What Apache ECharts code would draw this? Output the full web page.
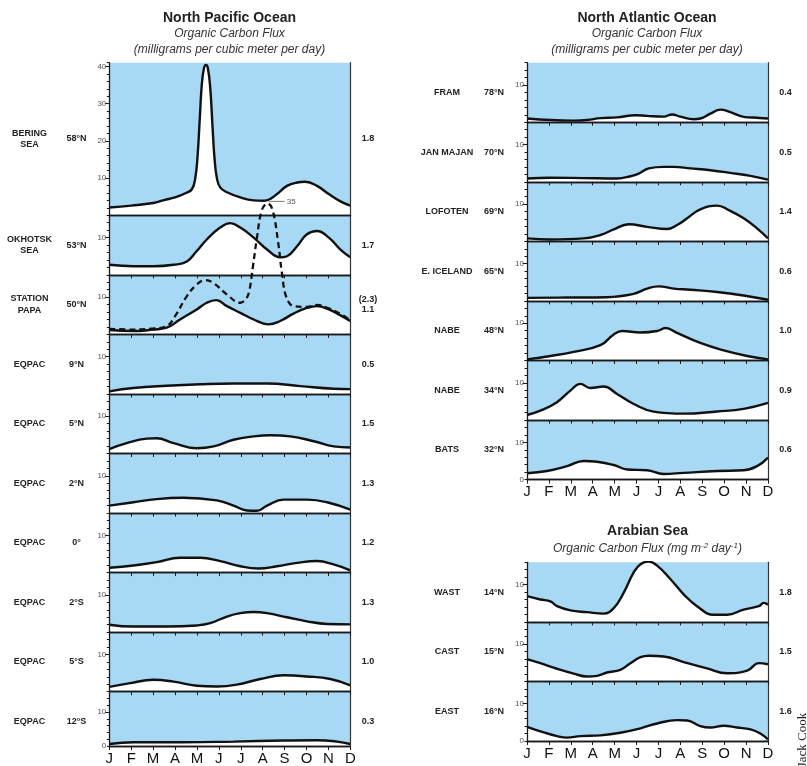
<!DOCTYPE html>
<html><head><meta charset="utf-8">
<script src="https://cdn.jsdelivr.net/npm/echarts@6/dist/echarts.min.js"></script>
<style>html,body{margin:0;padding:0;background:#fff}#c{width:807px;height:766px}</style>
</head><body><div id="c"></div>
<script>
// ---------- tick labels ----------
const months = ['J','F','M','A','M','J','J','A','S','O','N','D'];

// ---------- North Pacific (month index 0..11, flux) ----------
const beringSea = [[0,2.1],[1.0,2.6],[2.0,3.3],[2.5,4.1],[3.0,4.8],[3.5,6.0],[3.77,7.0],[3.92,9.8],[4.03,16],[4.13,26],[4.22,35],[4.32,39.5],[4.41,40.4],[4.50,39.5],[4.61,34],[4.71,24],[4.80,15.5],[4.91,10],[5.06,7.5],[5.37,6.2],[5.98,4.8],[6.59,4.0],[7.04,3.9],[7.35,4.4],[7.65,5.7],[8.11,7.9],[8.57,8.8],[8.95,9.0],[9.48,7.9],[10.02,5.7],[10.55,3.75],[11,2.6]];
const okhotskSea = [[0,2.7],[1.10,2.3],[2.01,2.3],[2.93,2.7],[3.54,3.6],[3.99,6.4],[4.45,9.5],[5.06,12.7],[5.52,13.9],[5.98,12.7],[6.59,10],[7.20,6.8],[7.80,4.7],[8.11,5.0],[8.57,7.7],[9.02,10.9],[9.48,11.8],[10.02,10],[10.55,6.8],[11,4.7]];
const stationPapa = [[0,1.2],[1.10,0.9],[2.01,1.3],[2.62,1.8],[3.23,4.0],[3.99,6.7],[4.45,8.5],[4.88,9.2],[5.37,7.6],[5.98,5.8],[6.59,4.0],[7.27,2.7],[7.80,3.6],[8.41,5.6],[9.02,7.1],[9.48,7.6],[10.02,6.7],[10.55,5.1],[11,3.6]];
const stationPapaAlt = [[0,1.5],[1.10,1.3],[2.01,1.6],[2.62,2.2],[3.0,4.9],[3.54,10.3],[3.99,13.4],[4.38,14.6],[4.76,13.8],[5.37,10.7],[5.98,8.5],[6.25,9.6],[6.40,12],[6.55,18],[6.74,26],[6.97,33.5],[7.23,35.2],[7.45,33.5],[7.70,25],[7.88,16.5],[8.08,10],[8.41,7.6],[9.02,7.4],[9.48,7.9],[10.02,7.0],[10.55,5.5],[11,3.75]];
const eqpac9N = [[0,0.7],[1.10,1.6],[2.62,2.2],[4.15,2.6],[5.67,2.8],[7.20,2.8],[8.72,2.1],[10.24,1.4],[11,1.3]];
const eqpac5N = [[0,1.2],[0.79,2.8],[1.71,4.0],[2.16,4.1],[2.93,2.8],[3.99,1.4],[4.76,1.9],[5.67,3.7],[6.59,4.6],[7.35,4.9],[8.26,4.6],[9.33,3.3],[10.24,1.9],[11,1.6]];
const eqpac2N = [[0,2.0],[1.10,2.9],[2.16,3.75],[3.38,4.1],[4.91,3.4],[5.67,2.0],[6.28,0.7],[6.74,0.6],[7.20,2.0],[7.96,3.6],[9.02,3.6],[9.94,2.9],[11,0.9]];
const eqpac0 = [[0,1.3],[1.10,1.9],[2.16,2.8],[3.23,4.0],[4.15,4.0],[5.06,3.1],[5.98,1.7],[6.81,1.1],[7.65,1.7],[8.57,2.6],[9.48,3.1],[10.24,2.2],[11,0.6]];
const eqpac2S = [[0,2.0],[1.10,1.5],[2.62,1.5],[3.99,1.8],[4.60,2.4],[5.37,4.2],[5.98,5.1],[6.59,5.4],[7.20,5.1],[8.11,4.0],[9.02,2.9],[9.94,2.2],[11,2.1]];
const eqpac5S = [[0,1.3],[0.95,2.3],[2.01,3.2],[2.93,2.7],[3.99,1.6],[4.91,1.4],[5.82,1.9],[6.89,3.4],[7.96,4.4],[9.02,4.1],[10.09,3.4],[11,1.7]];
const eqpac12S = [[0,0.6],[1.10,1.1],[3.38,1.1],[5.67,1.3],[7.96,1.6],[9.48,1.7],[10.40,1.3],[11,0.6]];

// ---------- North Atlantic ----------
const fram = [[0,1.0],[1.07,0.6],[2.13,0.45],[2.74,0.6],[3.35,1.1],[4.11,1.3],[4.95,1.9],[5.48,1.7],[6.24,1.5],[6.62,2.1],[7.00,1.5],[7.61,0.8],[7.91,1.0],[8.37,2.3],[8.83,3.4],[9.28,2.7],[9.89,1.45],[10.50,1.2],[11,1.0]];
const janMajan = [[0,0.9],[1.07,1.1],[2.59,1.0],[4.11,0.9],[4.72,1.5],[5.10,2.2],[5.56,3.6],[6.24,4.0],[6.70,4.0],[7.46,3.6],[8.37,3.1],[9.28,2.4],[10.20,1.6],[11,0.6]];
const lofoten = [[0,0.8],[1.07,0.5],[2.59,0.8],[3.35,1.7],[3.96,3.2],[4.64,4.6],[5.48,3.9],[6.39,3.3],[6.85,4.4],[7.31,6.2],[7.91,8.6],[8.68,9.6],[9.21,8.4],[9.89,6.2],[10.50,3.5],[11,0.8]];
const eIceland = [[0,0.8],[1.83,0.9],[3.65,1.0],[4.87,1.9],[5.48,3.3],[6.01,3.9],[6.70,3.3],[7.46,3.0],[8.68,2.4],[9.89,1.45],[11,0.3]];
const nabe48N = [[0,0.3],[1.07,1.2],[2.13,2.3],[3.35,4.1],[3.96,7.0],[4.34,7.9],[5.18,7.5],[5.94,7.9],[6.32,8.7],[6.85,7.4],[7.91,4.7],[8.98,2.7],[10.05,1.2],[11,0.3]];
const nabe34N = [[0,1.35],[0.61,2.5],[1.37,4.8],[1.98,7.9],[2.44,9.7],[2.89,8.6],[3.50,9.0],[4.11,7.0],[4.87,4.3],[5.78,2.25],[7.15,1.7],[8.68,2.3],[9.89,3.0],[11,4.6]];
const bats = [[0,1.7],[0.91,2.3],[1.83,3.6],[2.59,5.0],[3.20,4.8],[3.96,3.9],[4.57,2.7],[5.48,2.5],[6.24,1.5],[7.15,1.8],[8.68,2.3],[9.89,2.5],[10.50,3.6],[11,5.9]];

// ---------- Arabian Sea ----------
const wast = [[0,6.9],[0.61,6.0],[1.07,5.5],[1.37,4.2],[1.98,3.1],[2.74,2.6],[3.50,2.2],[3.96,3.7],[4.41,7.8],[4.87,13.3],[5.18,15.5],[5.56,16.2],[5.94,15.1],[6.54,11.5],[7.15,7.4],[7.76,4.2],[8.52,1.9],[9.13,1.9],[9.89,3.3],[10.58,4.2],[10.81,5.1],[11,4.6]];
const cast = [[0,6.0],[0.61,4.9],[1.37,3.4],[2.13,2.1],[2.74,1.3],[3.20,1.5],[3.65,2.4],[4.26,3.1],[4.72,4.9],[5.18,6.5],[5.56,6.9],[6.24,6.7],[7.15,5.2],[8.22,3.5],[9.13,2.2],[10.05,2.9],[10.58,4.9],[11,4.6]];
const east = [[0,3.8],[0.76,2.3],[1.37,1.3],[1.83,0.9],[2.44,1.3],[3.35,1.5],[4.26,2.2],[5.18,3.4],[5.94,4.7],[6.85,5.6],[7.31,5.5],[7.91,4.0],[8.37,3.6],[8.98,4.1],[9.59,3.6],[10.20,3.1],[10.65,2.0],[11,0.4]];

// ---------- labels ----------
const pacificNames  = ['BERING\nSEA','OKHOTSK\nSEA','STATION\nPAPA','EQPAC','EQPAC','EQPAC','EQPAC','EQPAC','EQPAC','EQPAC'];
const pacificLats   = ['58°N','53°N','50°N','9°N','5°N','2°N','0°','2°S','5°S','12°S'];
const pacificTotals = ['1.8','1.7','(2.3)\n1.1','0.5','1.5','1.3','1.2','1.3','1.0','0.3'];
const pacificData   = [beringSea, okhotskSea, stationPapa, eqpac9N, eqpac5N, eqpac2N, eqpac0, eqpac2S, eqpac5S, eqpac12S];
const atlanticNames  = ['FRAM','JAN MAJAN','LOFOTEN','E. ICELAND','NABE','NABE','BATS'];
const atlanticLats   = ['78°N','70°N','69°N','65°N','48°N','34°N','32°N'];
const atlanticTotals = ['0.4','0.5','1.4','0.6','1.0','0.9','0.6'];
const atlanticData   = [fram, janMajan, lofoten, eIceland, nabe48N, nabe34N, bats];
const arabianNames  = ['WAST','CAST','EAST'];
const arabianLats   = ['14°N','15°N','16°N'];
const arabianTotals = ['1.8','1.5','1.6'];
const arabianData   = [wast, cast, east];
const beringMax = 41, panelMax = 16;
const peakLabel = '35';

// ---------- layout ----------
const BLUE = '#a7d8f4', INK = '#1a1a1a';
const FONT = '"Liberation Sans", Arial, Helvetica, sans-serif';
const panels = [];
function addColumn(names, lats, totals, datas, left, top0, nameX, latX, totX, firstBig) {
  let top = top0;
  names.forEach((n, i) => {
    const big = firstBig && i === 0;
    const h = big ? 152.6 : 59.55;
    panels.push({name: n, lat: lats[i], total: totals[i], data: datas[i], left, top, h,
      max: big ? beringMax : panelMax, big, last: i === names.length - 1, nameX, latX, totX, topTicks: !big});
    top += h;
  });
}
addColumn(pacificNames, pacificLats, pacificTotals, pacificData, 109.3, 62.7, 29.5, 76.5, 368, true);
addColumn(atlanticNames, atlanticLats, atlanticTotals, atlanticData, 527, 62.7, 447, 494, 785.5, false);
addColumn(arabianNames, arabianLats, arabianTotals, arabianData, 527, 562.3, 447, 494, 785.5, false);

const grid = [], xAxis = [], yAxis = [], series = [], graphic = [];
const lineAxis = {show: true, lineStyle: {color: INK, width: 1.3}};
panels.forEach((p, i) => {
  grid.push({left: p.left, top: p.top, width: 241, height: p.h, show: true, backgroundColor: BLUE, borderWidth: 0});
  xAxis.push({gridIndex: i, type: 'value', min: 0, max: 11, interval: 1, position: 'top', z: 5,
    axisLine: lineAxis, axisTick: {show: p.topTicks, inside: true, length: 3.5, lineStyle: {color: INK, width: 1}},
    axisLabel: {show: false}, splitLine: {show: false}});
  xAxis.push({gridIndex: i, type: 'value', min: 0, max: 11, interval: 1, position: 'bottom', z: 5,
    axisLine: lineAxis, axisTick: {show: p.last, length: 4, lineStyle: {color: INK, width: 1}},
    axisLabel: {show: p.last, margin: 5, fontSize: 15, color: '#111',
      fontFamily: '"Liberation Sans Narrow", "Arial Narrow", ' + FONT,
      formatter: v => months[Math.round(v)]}, splitLine: {show: false}});
  const majors = p.big ? [10, 20, 30, 40] : [10];
  const labels = p.big ? [10, 20, 30, 40] : (p.last ? [0, 10] : [10]);
  yAxis.push({gridIndex: i, type: 'value', min: 0, max: p.max, interval: 2, position: 'left', z: 5,
    axisLine: lineAxis, axisTick: {show: true, length: 2.5, lineStyle: {color: INK, width: 1}},
    axisLabel: {show: false}, splitLine: {show: false}});
  yAxis.push({gridIndex: i, type: 'value', min: 0, max: p.max, interval: 10, position: 'left', z: 5,
    axisLine: {show: false}, axisTick: {show: true, length: 4.5, customValues: majors, lineStyle: {color: INK, width: 1}},
    axisLabel: {show: true, customValues: labels, fontSize: 8, color: '#555', margin: 3, fontFamily: FONT,
      formatter: v => labels.indexOf(v) >= 0 ? String(v) : ''}, splitLine: {show: false}});
  yAxis.push({gridIndex: i, type: 'value', min: 0, max: p.max, position: 'right', z: 5,
    axisLine: {show: true, lineStyle: {color: '#333', width: 1.2}}, axisTick: {show: false},
    axisLabel: {show: false}, splitLine: {show: false}});
  series.push({type: 'line', xAxisIndex: 2 * i, yAxisIndex: 3 * i, data: p.data, smooth: 0.45,
    symbol: 'none', z: 3, lineStyle: {color: '#111', width: 2.4}, areaStyle: {color: '#fff', opacity: 1}});

  const cy = p.top + p.h / 2;
  const lbl = {fontSize: 9, fontWeight: 'bold', fill: '#222', fontFamily: FONT, align: 'center', verticalAlign: 'middle', lineHeight: 11.5};
  graphic.push({type: 'text', x: p.nameX, y: cy, style: Object.assign({text: p.name}, lbl)});
  graphic.push({type: 'text', x: p.latX, y: cy, style: Object.assign({text: p.lat}, lbl)});
  graphic.push({type: 'text', x: p.totX, y: cy, style: Object.assign({text: p.total}, lbl, {lineHeight: 10})});
});

// dashed alternative Station Papa curve (not clipped, rises to 35)
const papaIdx = 2;
series.push({type: 'line', xAxisIndex: 2 * papaIdx, yAxisIndex: 3 * papaIdx, data: stationPapaAlt, smooth: 0.4,
  symbol: 'none', clip: false, z: 10, lineStyle: {color: '#111', width: 2.3, type: [6, 4]}});

// titles
function title(x, y, text, size, bold, italic, extra) {
  return {type: 'text', x, y, z: 10, style: Object.assign({text, fontSize: size, fontWeight: bold ? 'bold' : 'normal',
    fontStyle: italic ? 'italic' : 'normal', fill: '#222', fontFamily: FONT, align: 'center', verticalAlign: 'middle'}, extra || {})};
}
graphic.push(title(229.5, 18.5, 'North Pacific Ocean', 14, true, false));
graphic.push(title(229.5, 33.5, 'Organic Carbon Flux', 12, false, true, {fill: '#333'}));
graphic.push(title(229.5, 50, '(milligrams per cubic meter per day)', 12, false, true, {fill: '#333'}));
graphic.push(title(647, 18.5, 'North Atlantic Ocean', 14, true, false));
graphic.push(title(647, 33.5, 'Organic Carbon Flux', 12, false, true, {fill: '#333'}));
graphic.push(title(647, 50, '(milligrams per cubic meter per day)', 12, false, true, {fill: '#333'}));
graphic.push(title(647.5, 531.5, 'Arabian Sea', 14, true, false));
graphic.push(title(647.5, 548.5, 'Organic Carbon Flux (mg m{s|-2} day{s|-1})', 12, false, true,
  {fill: '#333', rich: {s: {fontSize: 8, fontStyle: 'italic', fill: '#333', fontFamily: FONT, verticalAlign: 'top', padding: [0, 0, 6, 0]}}}));
graphic.push({type: 'text', x: 803, y: 740, rotation: Math.PI / 2, z: 10,
  style: {text: 'Jack Cook', fontSize: 13, fill: '#222', fontFamily: '"Liberation Serif", "Times New Roman", serif', align: 'center', verticalAlign: 'middle'}});

const chart = echarts.init(document.getElementById('c'), null, {renderer: 'canvas'});
chart.setOption({animation: false, grid, xAxis, yAxis, series, graphic: {elements: graphic}});

// "35" leader annotation at the dashed peak
const pk = chart.convertToPixel({seriesIndex: series.length - 1}, [7.23, 35.2]);
const annot = [
  {type: 'line', z: 11, shape: {x1: pk[0] + 1, y1: pk[1] - 2, x2: pk[0] + 17, y2: pk[1] - 2}, style: {stroke: '#555', lineWidth: 0.8}},
  {type: 'text', z: 11, x: pk[0] + 19, y: pk[1] - 2, style: {text: peakLabel, fontSize: 8, fill: '#555', fontFamily: FONT, align: 'left', verticalAlign: 'middle'}}
];
chart.setOption({graphic: {elements: graphic.concat(annot)}});
</script></body></html>
